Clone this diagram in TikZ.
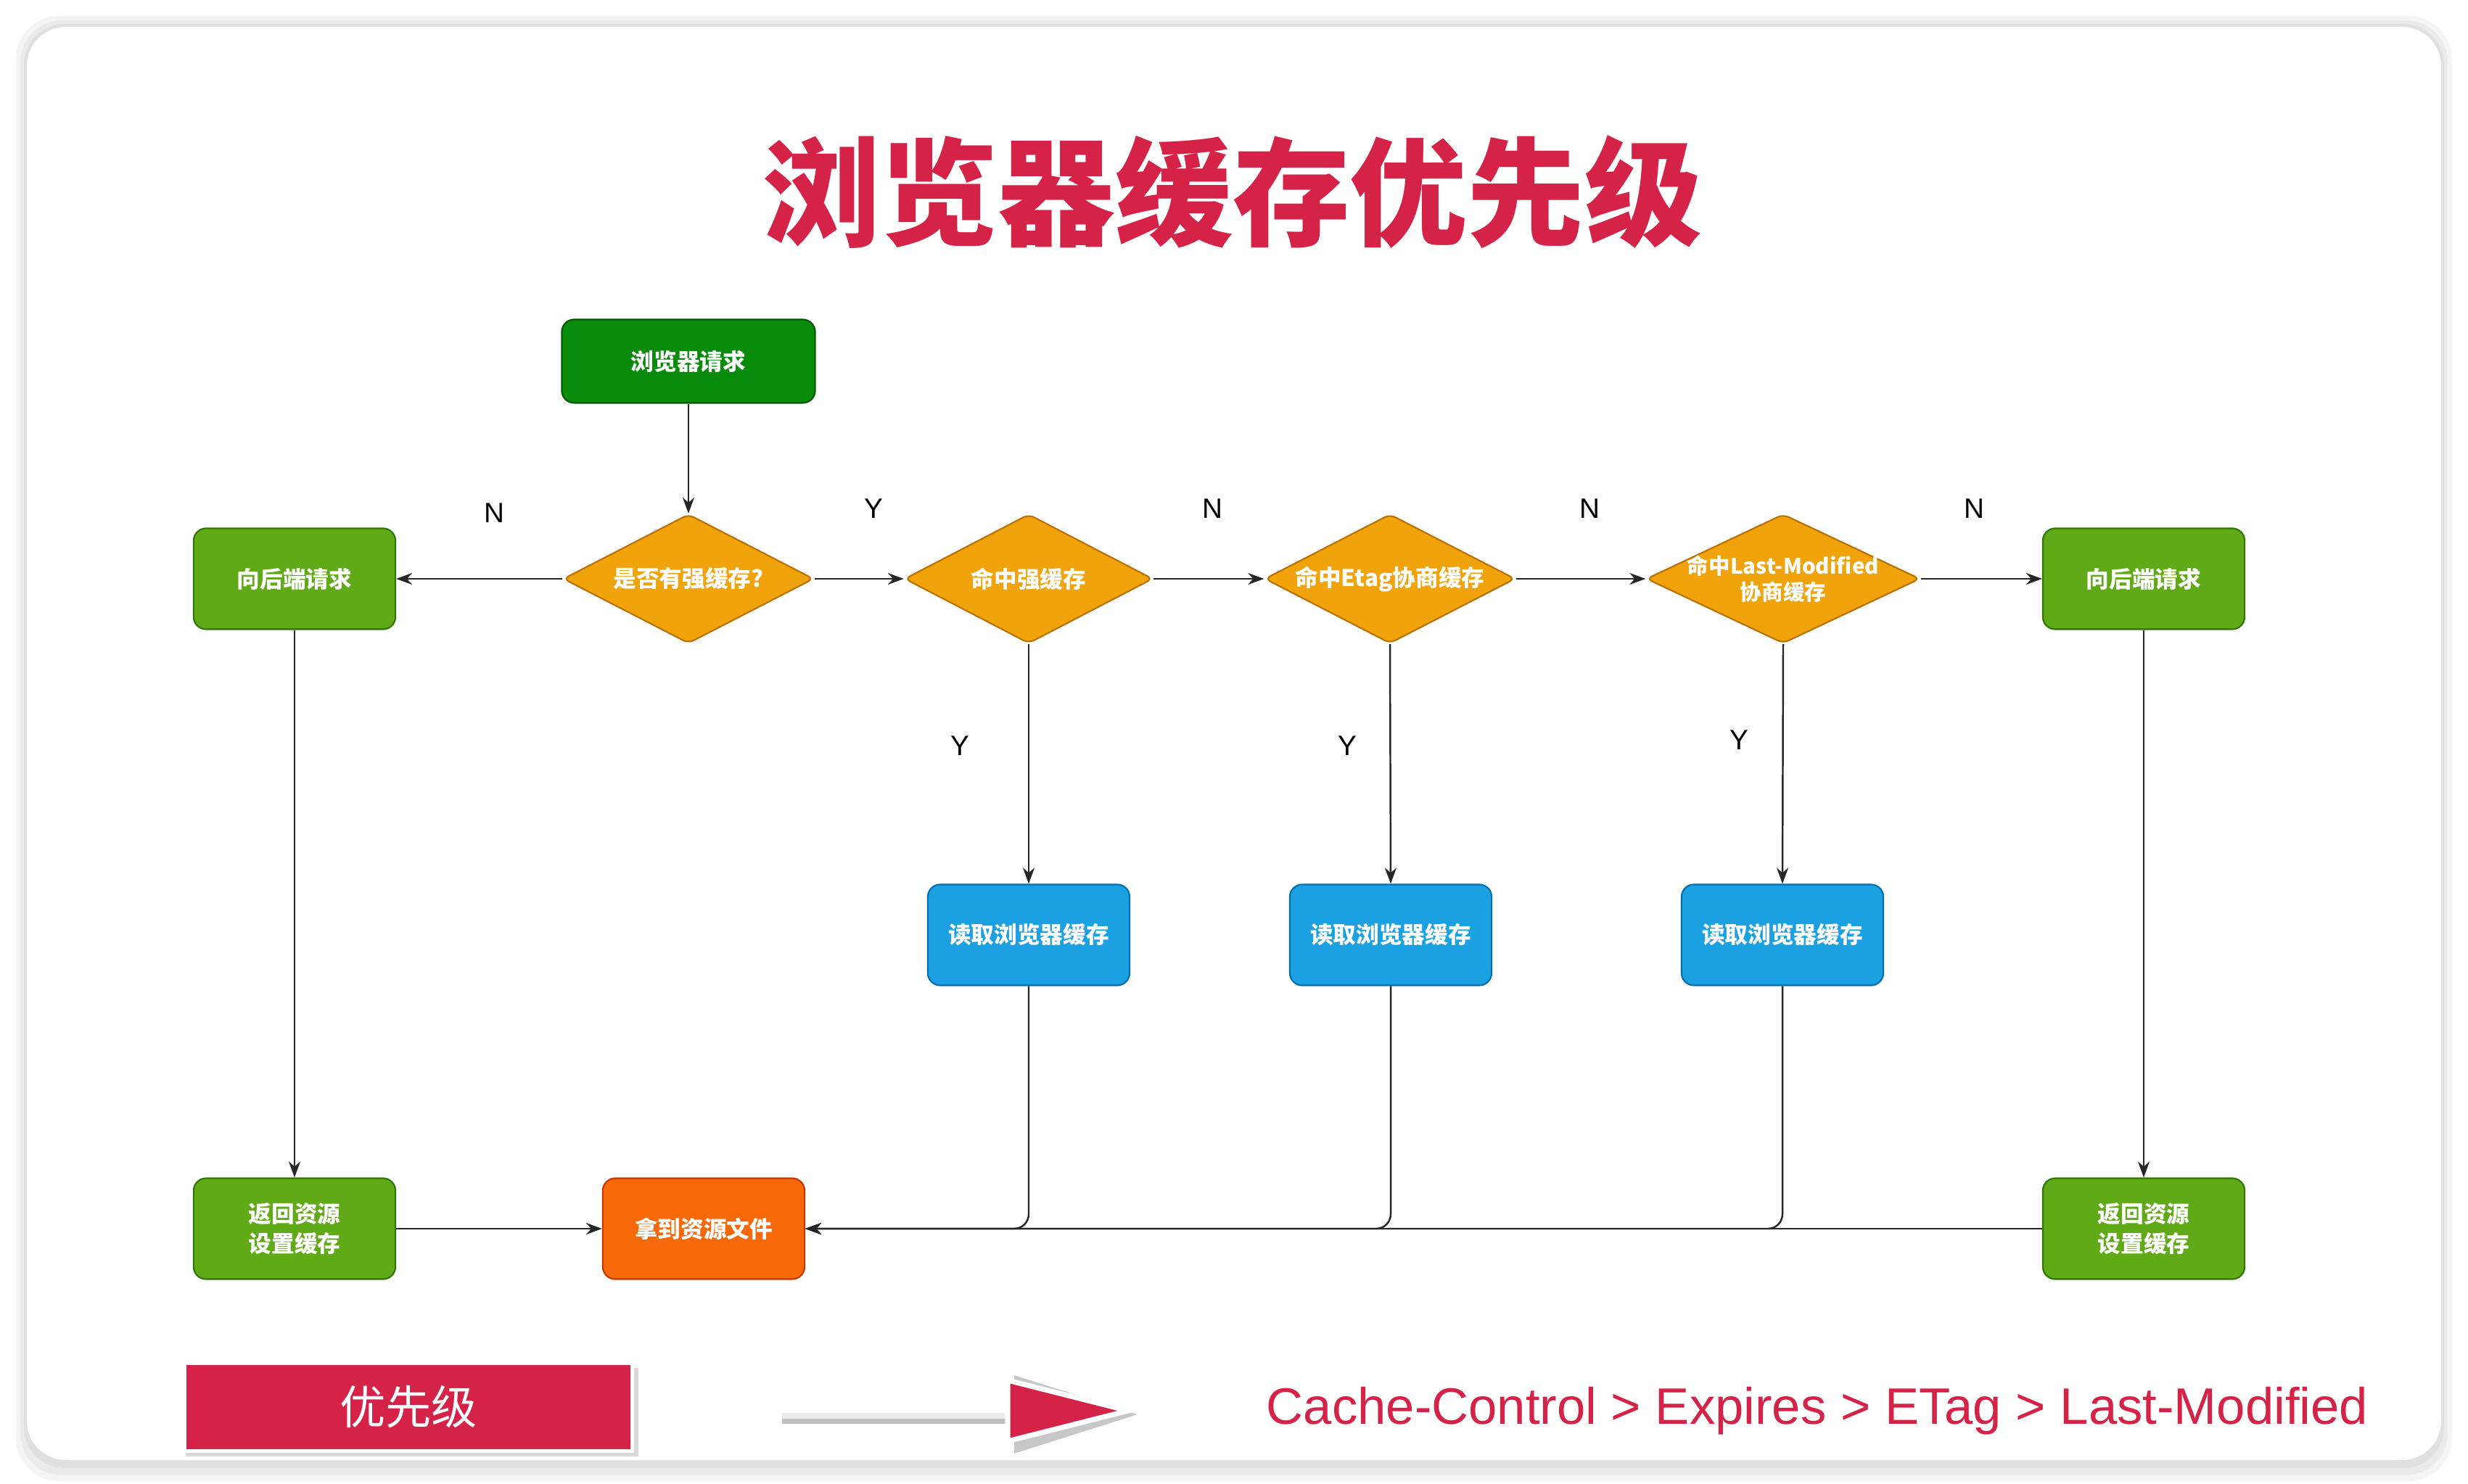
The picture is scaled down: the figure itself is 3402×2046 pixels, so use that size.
\documentclass[tikz,border=0pt]{standalone}
\usepackage{fontspec}
\setmainfont{Noto Sans CJK SC}
\newfontfamily\lat{Liberation Sans}
\usetikzlibrary{shapes.geometric,arrows.meta,shadows}
\definecolor{crim}{HTML}{D42347}
\definecolor{dgreen}{HTML}{088A0A}
\definecolor{dgreenD}{HTML}{005700}
\definecolor{lgreen}{HTML}{60A917}
\definecolor{lgreenD}{HTML}{2D7600}
\definecolor{orng}{HTML}{F0A30A}
\definecolor{orngD}{HTML}{BD7000}
\definecolor{blu}{HTML}{1BA1E2}
\definecolor{bluD}{HTML}{006EAF}
\definecolor{dorng}{HTML}{F76808}
\definecolor{dorngD}{HTML}{C73500}
\begin{document}
\begin{tikzpicture}[x=0.01cm,y=-0.01cm,
  box/.style={rectangle, rounded corners=0.17cm, minimum width=2.78cm, minimum height=1.39cm,
    text=white, font=\bfseries\fontsize{9}{11.5}\selectfont, align=center, line width=0.6pt, inner sep=1pt},
  dgbox/.style={box, fill=dgreen, draw=dgreenD},
  gbox/.style={box, fill=lgreen, draw=lgreenD},
  bbox/.style={box, fill=blu, draw=bluD},
  obox/.style={box, fill=dorng, draw=dorngD},
  dia/.style={diamond, minimum width=3.45cm, minimum height=1.78cm, inner sep=0pt,
    fill=orng, draw=orngD, line width=0.6pt, rounded corners=0.08cm},
  dtext/.style={text=white, font=\bfseries\fontsize{9}{10.5}\selectfont, align=center},
  conn/.style={draw=black!85, line width=0.7pt, -{Stealth[length=0.22cm,width=0.16cm]}},
  lbl/.style={font=\lat\fontsize{11}{13}\selectfont, text=black}
]
\useasboundingbox (0,0) rectangle (3402,2046);
\fill[white] (0,0) rectangle (3402,2046);
% card with soft shadow
\fill[black!4, rounded corners=0.6cm] (22,22) rectangle (3380,2042);
\fill[black!8, rounded corners=0.58cm] (28,28) rectangle (3374,2034);
\fill[black!12, rounded corners=0.56cm] (33,33) rectangle (3369,2024);
\fill[white, rounded corners=0.54cm] (37,37) rectangle (3365,2013);

% title
\node[text=crim, font=\bfseries\fontsize{46}{50}\selectfont] (title) at (1699,265) {浏览器缓存优先级};

% nodes
\node[dgbox, minimum width=3.49cm, minimum height=1.15cm] (req) at (949,498) {浏览器请求};
\node[dia, label={[dtext]center:是否有强缓存?}] (q1) at (949,798) {};
\node[dia, minimum width=3.42cm, label={[dtext]center:命中强缓存}] (q2) at (1418,798) {};
\node[dia, label={[dtext]center:命中Etag协商缓存}] (q3) at (1916,798) {};
\node[dia, minimum width=3.77cm, label={[dtext, font=\bfseries\fontsize{8.4}{10.2}\selectfont]center:命中Last-Modified\\协商缓存}] (q4) at (2458,798) {};
\node[gbox] (bL) at (406,798) {向后端请求};
\node[gbox] (bR) at (2955,798) {向后端请求};
\node[bbox] (r1) at (1418,1289) {读取浏览器缓存};
\node[bbox] (r2) at (1917,1289) {读取浏览器缓存};
\node[bbox] (r3) at (2457,1289) {读取浏览器缓存};
\node[gbox] (retL) at (406,1694) {返回资源\\设置缓存};
\node[obox] (get) at (970,1694) {拿到资源文件};
\node[gbox] (retR) at (2955,1694) {返回资源\\设置缓存};

% connectors
\draw[conn] (req) -- (q1);
\draw[conn] (q1.west) -- (bL.east);
\draw[conn] (q1.east) -- (q2.west);
\draw[conn] (q2.east) -- (q3.west);
\draw[conn] (q3.east) -- (q4.west);
\draw[conn] (q4.east) -- (bR.west);
\draw[conn] (q2.south) -- (r1.north);
\draw[conn] (q3.south) -- (r2.north);
\draw[conn] (q4.south) -- (r3.north);
\draw[conn] (bL.south) -- (retL.north);
\draw[conn] (bR.south) -- (retR.north);
\draw[conn] (retL.east) -- (get.west);
\draw[conn] (retR.west) -- (get.east);
\draw[conn, rounded corners=0.2cm] (r1.south) |- (get.east);
\draw[conn, rounded corners=0.2cm] (r2.south) |- (get.east);
\draw[conn, rounded corners=0.2cm] (r3.south) |- (get.east);

% edge labels
\node[lbl] (n1) at (681,707) {N};
\node[lbl] (y1) at (1204,701) {Y};
\node[lbl] (n2) at (1671,701) {N};
\node[lbl] (n3) at (2191,701) {N};
\node[lbl] (n4) at (2721,701) {N};
\node[lbl] (y2) at (1323,1028) {Y};
\node[lbl] (y3) at (1857,1028) {Y};
\node[lbl] (y4) at (2397,1020) {Y};

% priority legend
\fill[black!15] (256,1886) rectangle (880,2008);
\node[rectangle, fill=crim, draw=white, line width=1.5pt, minimum width=6.16cm, minimum height=1.21cm,
  text=white, font=\fontsize{18}{20}\selectfont] (prio) at (563,1940) {优先级};
\coordinate (sh0) at (1078,1952);
\coordinate (sh1) at (1392,1952);
\draw[black!25, line width=4pt] ([yshift=-0.04cm]sh0) -- ([yshift=-0.04cm]sh1);
\draw[white!92!black, line width=2.5pt] (sh0) -- (sh1);
\fill[black!22] (1398,1896) -- (1568,1950) -- (1398,2004) -- cycle;
\filldraw[fill=crim, draw=white, line width=2pt, line join=miter] (1389,1903) -- (1555,1945) -- (1389,1987) -- cycle;
\node[anchor=base west, text=crim, font=\lat\fontsize{20.1}{22}\selectfont, inner sep=0pt] (order) at (1745,1963)
  {Cache-Control > Expires > ETag > Last-Modified};
\end{tikzpicture}
\end{document}
